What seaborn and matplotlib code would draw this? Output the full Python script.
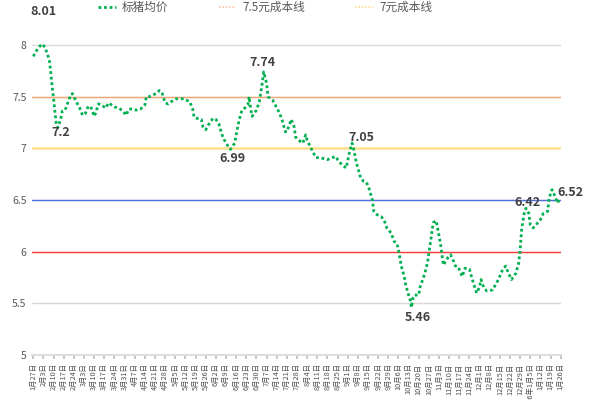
import numpy as np
import pandas as pd
import matplotlib
matplotlib.use("Agg")
import matplotlib.pyplot as plt
import seaborn as sns
from matplotlib.lines import Line2D

# ---------------- data ----------------
start_date = "2025-01-27"
day_offsets = [0, 2, 4, 6, 8, 10, 11, 12, 13, 14, 15, 16, 17, 19, 20, 22, 24, 26, 27, 29,
               32, 34, 36, 38, 40, 42, 43, 45, 47, 50, 52, 56, 59, 62, 64, 66, 68, 71, 74, 77,
               78, 80, 83, 85, 87, 89, 91, 93, 95, 99, 104, 108, 110, 111, 113, 116, 117, 119, 121, 124,
               126, 128, 129, 131, 134, 136, 139, 140, 142, 144, 146, 148, 149, 150, 151, 154, 156, 158, 159, 161,
               162, 165, 167, 170, 172, 174, 175, 178, 180, 181, 183, 186, 188, 189, 191, 195, 198, 203, 206, 209,
               210, 213, 216, 218, 220, 221, 223, 226, 228, 230, 232, 234, 235, 237, 240, 242, 244, 247, 249, 251,
               252, 254, 256, 257, 259, 260, 261, 262, 263, 266, 267, 270, 272, 274, 276, 278, 279, 281, 283, 286,
               288, 290, 292, 294, 296, 298, 301, 303, 306, 308, 309, 311, 313, 317, 319, 321, 324, 326, 328, 330,
               333, 335, 336, 337, 339, 340, 342, 343, 345, 347, 350, 352, 355, 356, 358, 359, 361, 362, 363]
avg_price = [7.89, 7.94, 7.98, 8.01, 7.98, 7.90, 7.86, 7.74, 7.60, 7.48, 7.34, 7.22, 7.20, 7.29, 7.36, 7.37, 7.45, 7.52, 7.53, 7.47,
             7.39, 7.32, 7.34, 7.41, 7.39, 7.31, 7.34, 7.43, 7.42, 7.39, 7.44, 7.40, 7.39, 7.36, 7.32, 7.38, 7.38, 7.37, 7.38, 7.42,
             7.50, 7.50, 7.52, 7.53, 7.56, 7.53, 7.44, 7.43, 7.45, 7.48, 7.48, 7.45, 7.38, 7.30, 7.29, 7.28, 7.21, 7.18, 7.23, 7.29,
             7.28, 7.24, 7.19, 7.10, 7.03, 6.99, 7.05, 7.13, 7.27, 7.37, 7.39, 7.42, 7.50, 7.38, 7.31, 7.37, 7.45, 7.63, 7.74, 7.63,
             7.50, 7.47, 7.42, 7.34, 7.26, 7.16, 7.16, 7.28, 7.21, 7.11, 7.08, 7.05, 7.13, 7.08, 7.02, 6.91, 6.91, 6.89, 6.91, 6.92,
             6.89, 6.84, 6.81, 6.95, 7.05, 7.00, 6.86, 6.71, 6.68, 6.67, 6.60, 6.50, 6.39, 6.36, 6.34, 6.31, 6.23, 6.18, 6.10, 6.08,
             6.02, 5.86, 5.76, 5.68, 5.58, 5.54, 5.46, 5.55, 5.58, 5.58, 5.66, 5.78, 5.89, 6.08, 6.28, 6.30, 6.23, 6.08, 5.87, 5.94,
             5.97, 5.91, 5.84, 5.83, 5.76, 5.84, 5.83, 5.73, 5.60, 5.66, 5.73, 5.65, 5.62, 5.63, 5.68, 5.73, 5.83, 5.86, 5.79, 5.73,
             5.79, 5.89, 6.02, 6.21, 6.39, 6.42, 6.37, 6.26, 6.23, 6.26, 6.31, 6.37, 6.39, 6.52, 6.60, 6.57, 6.50, 6.47, 6.52]
cost_levels = [7.5, 7.0, 6.5, 6.0]
legend_labels = ["标猪均价", "7.5元成本线", "7元成本线"]
annot_days = [6, 17, 136, 159, 220, 261, 340, 363]
y_ticks = [5, 5.5, 6, 6.5, 7, 7.5, 8]
n_week_ticks = 53

# ---------------- styling ----------------
sns.set_theme(style="white")
plt.rcParams['font.family'] = ['Noto Sans CJK SC', 'DejaVu Sans']

start = pd.Timestamp(start_date)
dates = start + pd.to_timedelta(day_offsets, unit="D")
df = pd.DataFrame({"date": dates, "price": avg_price})

fig = plt.figure(figsize=(6, 4), dpi=100)
fig.patch.set_facecolor("white")
ax = fig.add_axes([32 / 600, 1 - 355 / 400, 529 / 600, (355 - 14) / 400])

# grid
ax.set_ylim(5, 8.3)
ax.set_yticks(y_ticks)
ax.set_yticklabels([f"{v:g}" for v in y_ticks])
ax.yaxis.grid(True, color="#D9D9D9", lw=1)
ax.set_axisbelow(True)

cost_styles = {7.5: ("#F2A672", 1.0), 7.0: ("#FFE08C", 1.8), 6.5: ("#4F6FE0", 1.0), 6.0: ("#FF3A3A", 1.0)}
for lv in cost_levels:
    c, w = cost_styles[lv]
    ax.axhline(lv, color=c, lw=w, zorder=2)

sns.lineplot(data=df, x="date", y="price", ax=ax, color="#00B050", lw=2.0,
             estimator=None, sort=False, legend=False, zorder=5)
main_line = ax.lines[-1]
main_line.set_linestyle((0, (1, 1)))
main_line.set_dash_capstyle("butt")

# x axis
ax.set_xlim(start - pd.Timedelta(days=0.9), start + pd.Timedelta(days=364.2))
week_ticks = pd.date_range(start, periods=n_week_ticks, freq="7D")
labels = []
for i, t in enumerate(week_ticks):
    if i > 0 and t.year != week_ticks[i - 1].year:
        labels.append(f"{t.year}年{t.month}月{t.day}日")
    else:
        labels.append(f"{t.month}月{t.day}日")
ax.set_xticks(week_ticks)
ax.set_xticklabels(labels, rotation=90, fontsize=5.3, color="#505050")
ax.tick_params(axis="x", length=3, color="#BFBFBF", pad=3, bottom=True)
ax.tick_params(axis="y", length=0, labelsize=7.5, labelcolor="#595959", pad=4)
ax.set_xlabel("")
ax.set_ylabel("")
for s in ["top", "right", "left"]:
    ax.spines[s].set_visible(False)
ax.spines["bottom"].set_color("#D9D9D9")

# annotations
offsets = {6: (1, 32), 17: (3, -5), 136: (2, -9), 159: (-1, 9),
           220: (9, 6), 261: (6, -10), 340: (2, 6), 363: (11, 5)}
for d in annot_days:
    i = day_offsets.index(d)
    ax.annotate(f"{avg_price[i]:g}", xy=(dates[i], avg_price[i]), xytext=offsets[d],
                textcoords="offset pixels", ha="center", va="center",
                fontsize=9, fontweight="bold", color="#404040", zorder=10)

# legend
handles = [Line2D([], [], color="#00B050", lw=2.0, linestyle=(0, (1, 1))),
           Line2D([], [], color="#F8C7A6", lw=1.2, linestyle=(0, (1, 1))),
           Line2D([], [], color="#FFE08C", lw=1.2, linestyle=(0, (1, 1)))]
fig.legend(handles, legend_labels, loc="center", bbox_to_anchor=(0.442, 1 - 7.5 / 400),
           ncol=3, frameon=False, fontsize=8.4, labelcolor="#595959",
           handlelength=1.5, handletextpad=0.55, columnspacing=4.3, borderpad=0.0)

fig.savefig("out.png", dpi=100, facecolor="white")
